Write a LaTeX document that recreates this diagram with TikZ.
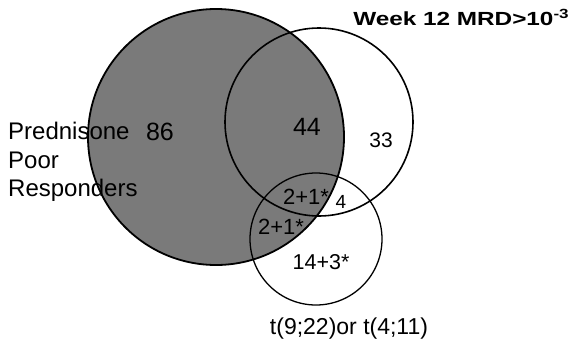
\documentclass[tikz,border=0pt]{standalone}
\usepackage{fontspec}
\setmainfont{Liberation Sans}
\begin{document}
\begin{tikzpicture}[x=1pt,y=-1pt,
  setc/.style={circle,draw=black,inner sep=0pt,outer sep=0pt,line width=1.3pt},
  lbl/.style={inner sep=0pt,font=\fontsize{#1}{#1}\selectfont},
  lbl/.default=20]
\useasboundingbox (0,0) rectangle (573,340);
% shaded prednisone circle
\node[setc,fill=black!52,line width=1.8pt,minimum size=256pt] (pp) at (216,137) {};
\node[setc,minimum size=188pt,line width=1.6pt] (mrd) at (319,122) {};
\node[setc,minimum size=132pt] (tr) at (316,239) {};
% set labels
\node[lbl=24,anchor=base west] (pt1) at (8,139) {Prednisone};
\node[lbl=24,anchor=base west] (pt2) at (8,168) {Poor};
\node[lbl=24,anchor=base west] (pt3) at (8,196) {Responders};
\node[lbl=19,anchor=base west,xscale=1.28,font=\fontsize{19}{19}\selectfont\bfseries] (wk) at (353,25) {Week 12 MRD>10\textsuperscript{-3}};
\node[lbl=23,anchor=base] (tl) at (349,334) {t(9;22)or t(4;11)};
% counts
\node[lbl=25] (n86) at (160,132) {86};
\node[lbl=25] (n44) at (307,127) {44};
\node[lbl=21] (n33) at (381,140) {33};
\node[lbl=22] (n21a) at (306,197) {2+1*};
\node[lbl=19] (n4) at (341,202) {4};
\node[lbl=22] (n21b) at (281,227) {2+1*};
\node[lbl=21.5] (n14) at (321,262) {14+3*};
\end{tikzpicture}
\end{document}
